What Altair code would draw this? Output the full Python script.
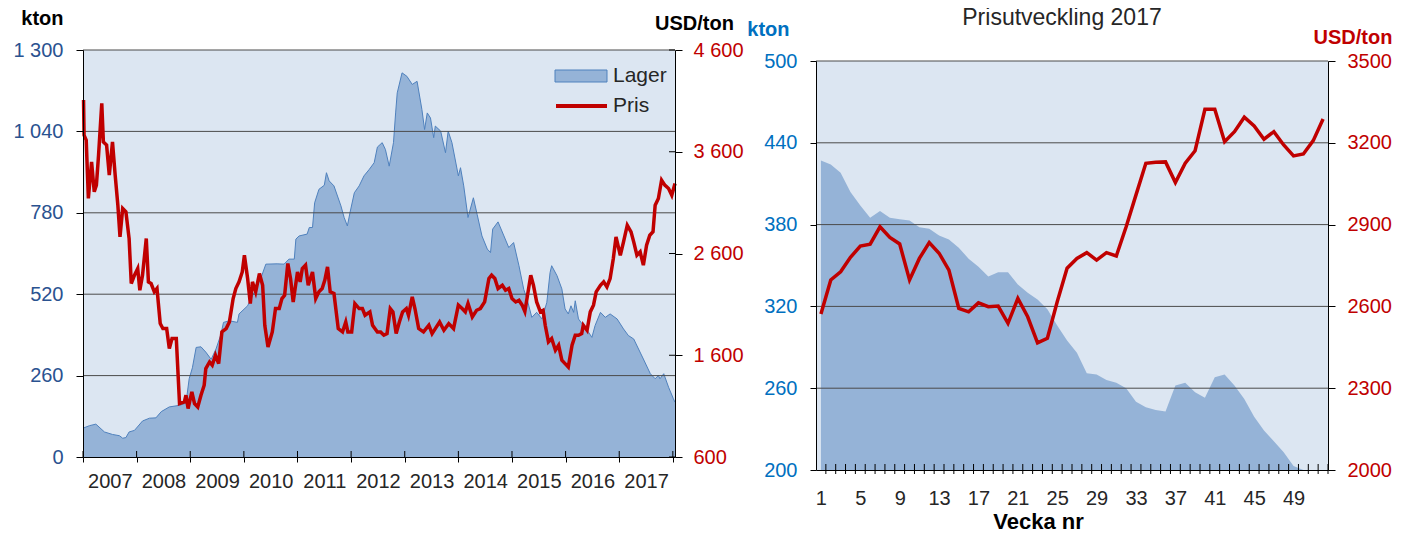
import altair as alt
import pandas as pd

# ---------------- data ----------------
lager_t = [2007.00, 2007.12, 2007.24, 2007.40, 2007.55, 2007.68, 2007.74, 2007.80, 2007.86, 2007.96,
           2008.11, 2008.24, 2008.36, 2008.46, 2008.61, 2008.80, 2008.92, 2008.98, 2009.04, 2009.11,
           2009.20, 2009.29, 2009.39, 2009.48, 2009.57, 2009.62, 2009.73, 2009.88, 2009.91, 2010.07,
           2010.31, 2010.41, 2010.62, 2010.75, 2010.84, 2010.94, 2010.97, 2011.03, 2011.18, 2011.22,
           2011.28, 2011.32, 2011.40, 2011.50, 2011.54, 2011.59, 2011.68, 2011.81, 2011.87, 2011.93,
           2011.98, 2012.06, 2012.15, 2012.24, 2012.34, 2012.43, 2012.49, 2012.58, 2012.64, 2012.71,
           2012.79, 2012.83, 2012.86, 2012.95, 2013.04, 2013.14, 2013.23, 2013.32, 2013.37, 2013.42,
           2013.48, 2013.54, 2013.57, 2013.67, 2013.76, 2013.81, 2013.88, 2014.00, 2014.04, 2014.10,
           2014.18, 2014.28, 2014.35, 2014.44, 2014.54, 2014.60, 2014.64, 2014.74, 2014.85, 2014.94,
           2015.03, 2015.13, 2015.22, 2015.28, 2015.37, 2015.46, 2015.56, 2015.65, 2015.71, 2015.74,
           2015.84, 2015.93, 2015.99, 2016.05, 2016.10, 2016.15, 2016.18, 2016.24, 2016.33, 2016.43,
           2016.49, 2016.55, 2016.65, 2016.74, 2016.83, 2016.96, 2017.08, 2017.17, 2017.27, 2017.36,
           2017.45, 2017.58, 2017.67, 2017.73, 2017.76, 2017.83, 2017.92, 2018.01, 2018.04]
lager_kton = [92, 100, 105, 80, 72, 68, 60, 62, 80, 85,
              115, 124, 125, 145, 160, 165, 172, 250, 285, 350,
              352, 335, 312, 345, 390, 430, 435, 430, 457, 483,
              568, 616, 617, 616, 632, 632, 696, 706, 712, 733,
              733, 812, 855, 868, 908, 882, 866, 802, 765, 738,
              781, 844, 866, 898, 919, 940, 990, 1004, 982, 929,
              1004, 1099, 1163, 1227, 1216, 1190, 1200, 1110, 1046, 1099,
              1083, 1020, 1057, 1041, 972, 1041, 1004, 898, 924, 866,
              765, 828, 775, 706, 664, 653, 728, 751, 706, 669,
              685, 611, 535, 505, 446, 462, 441, 494, 589, 611,
              579, 537, 473, 457, 483, 462, 499, 441, 420, 398,
              382, 420, 462, 446, 457, 441, 409, 388, 377, 345,
              313, 266, 250, 260, 250, 266, 223, 186, 175]

pris_t = [2007.01, 2007.02, 2007.06, 2007.10, 2007.16, 2007.21, 2007.25, 2007.29, 2007.35, 2007.38,
          2007.44, 2007.49, 2007.55, 2007.60, 2007.65, 2007.69, 2007.74, 2007.80, 2007.86, 2007.90,
          2007.96, 2008.02, 2008.06, 2008.11, 2008.18, 2008.22, 2008.27, 2008.33, 2008.38, 2008.44,
          2008.49, 2008.56, 2008.61, 2008.66, 2008.74, 2008.80, 2008.89, 2008.92, 2008.96, 2009.03,
          2009.08, 2009.14, 2009.20, 2009.26, 2009.29, 2009.36, 2009.41, 2009.47, 2009.53, 2009.59,
          2009.67, 2009.73, 2009.80, 2009.85, 2009.91, 2009.97, 2010.01, 2010.07, 2010.12, 2010.16,
          2010.22, 2010.29, 2010.35, 2010.39, 2010.45, 2010.53, 2010.59, 2010.66, 2010.71, 2010.76,
          2010.82, 2010.87, 2010.92, 2011.00, 2011.05, 2011.09, 2011.15, 2011.20, 2011.28, 2011.34,
          2011.40, 2011.46, 2011.51, 2011.56, 2011.61, 2011.68, 2011.76, 2011.84, 2011.90, 2011.94,
          2012.01, 2012.07, 2012.15, 2012.21, 2012.26, 2012.35, 2012.40, 2012.49, 2012.55, 2012.61,
          2012.67, 2012.73, 2012.78, 2012.84, 2012.90, 2012.96, 2013.03, 2013.07, 2013.14, 2013.19,
          2013.26, 2013.35, 2013.45, 2013.51, 2013.57, 2013.65, 2013.73, 2013.82, 2013.91, 2014.00,
          2014.07, 2014.13, 2014.18, 2014.26, 2014.34, 2014.41, 2014.49, 2014.57, 2014.62, 2014.68,
          2014.74, 2014.82, 2014.88, 2014.94, 2015.00, 2015.07, 2015.13, 2015.19, 2015.24, 2015.28,
          2015.35, 2015.40, 2015.46, 2015.53, 2015.58, 2015.62, 2015.68, 2015.74, 2015.81, 2015.87,
          2015.93, 2015.99, 2016.05, 2016.12, 2016.18, 2016.24, 2016.30, 2016.33, 2016.40, 2016.46,
          2016.52, 2016.57, 2016.65, 2016.71, 2016.77, 2016.83, 2016.89, 2016.94, 2017.02, 2017.08,
          2017.15, 2017.22, 2017.27, 2017.33, 2017.39, 2017.45, 2017.51, 2017.57, 2017.63, 2017.67,
          2017.73, 2017.79, 2017.85, 2017.92, 2017.98, 2018.04]
pris_usd = [4108, 3763, 3714, 3141, 3501, 3206, 3272, 3567, 4075, 3697,
            3665, 3370, 3697, 3370, 3075, 2763, 3042, 3009, 2747, 2305,
            2387, 2452, 2239, 2387, 2747, 2321, 2305, 2223, 2256, 1912,
            1862, 1862, 1666, 1764, 1764, 1125, 1141, 1207, 1076, 1239,
            1125, 1092, 1207, 1305, 1469, 1534, 1502, 1600, 1518, 1829,
            1862, 1927, 2157, 2256, 2321, 2419, 2583, 2354, 2108, 2321,
            2223, 2403, 2288, 1895, 1682, 1829, 2059, 2059, 2157, 2190,
            2502, 2354, 2124, 2419, 2321, 2452, 2485, 2288, 2419, 2157,
            2223, 2256, 2338, 2468, 2223, 2207, 1862, 1829, 1927, 1829,
            1829, 2108, 2059, 2059, 1993, 2026, 1895, 1829, 1829, 1797,
            1813, 2059, 2026, 1813, 1927, 2026, 2059, 1993, 2173, 2059,
            1862, 1829, 1895, 1813, 1862, 1927, 1846, 1911, 1862, 2092,
            2059, 2026, 2108, 1977, 2042, 2059, 2124, 2354, 2387, 2354,
            2256, 2288, 2239, 2256, 2157, 2124, 2141, 2092, 2030, 2157,
            2387, 2288, 2124, 2026, 2042, 1895, 1731, 1764, 1649, 1698,
            1551, 1518, 1485, 1698, 1797, 1797, 1813, 1895, 1846, 2026,
            2092, 2223, 2288, 2321, 2272, 2354, 2551, 2763, 2583, 2714,
            2878, 2813, 2714, 2583, 2616, 2485, 2681, 2780, 2813, 3075,
            3141, 3321, 3272, 3239, 3173, 3288]

weeks = list(range(1, 53))
lager_w = [427, 424, 418, 404, 394, 385, 390, 385, 384, 383,
           378, 377, 372, 369, 363, 355, 349, 342, 345, 345,
           336, 330, 325, 318, 306, 295, 286, 271, 270, 266,
           264, 260, 250, 246, 244, 243, 262, 264, 257, 253,
           268, 270, 262, 252, 239, 229, 221, 213, 203, 200,
           200, 200]
pris_w = [2572, 2697, 2727, 2780, 2821, 2828, 2892, 2853, 2829, 2697,
          2776, 2834, 2795, 2733, 2593, 2580, 2613, 2599, 2601, 2538,
          2629, 2562, 2466, 2483, 2617, 2740, 2776, 2797, 2770, 2797,
          2785, 2892, 3009, 3125, 3129, 3130, 3054, 3125, 3171, 3323,
          3323, 3204, 3241, 3294, 3262, 3213, 3241, 3192, 3152, 3159,
          3208, 3287]

years = list(range(2007, 2019))
kton_ticks_left = [0, 260, 520, 780, 1040, 1300]
usd_ticks_left = [600, 1600, 2600, 3600, 4600]
kton_ticks_right = [200, 260, 320, 380, 440, 500]
usd_ticks_right = [2000, 2300, 2600, 2900, 3200, 3500]
week_labels = [1, 5, 9, 13, 17, 21, 25, 29, 33, 37, 41, 45, 49]
legend_names = ["Lager", "Pris"]
right_title = "Prisutveckling 2017"

# ---------------- style ----------------
FONT = "Liberation Sans"
BG = "#dce6f2"
AREA = "#95b3d7"
AREA_EDGE = "#4f81bd"
RED = "#c00000"
BLUE_DARK = "#2a5290"
BLUE = "#0070c0"
TXT = "#262626"
GRID = "#4a4a4a"

W1, H1 = 592, 407
W2, H2 = 512, 420       # right view starts 11px above its plot frame
TOP2 = 11               # plot frame top inside the right view

SPACED = "replace(format(datum.value, ',d'), ',', ' ')"

df_lager = pd.DataFrame({"t": lager_t, "kton": lager_kton})
df_pris = pd.DataFrame({"t": pris_t, "usd": pris_usd})
df_years = pd.DataFrame({"t": years})
df_kgrid_l = pd.DataFrame({"kton": kton_ticks_left[1:]})
df_usd_l = pd.DataFrame({"usd": usd_ticks_left})
df_w = pd.DataFrame({"week": weeks, "kton": lager_w, "usd": pris_w})
df_kgrid_r = pd.DataFrame({"kton": kton_ticks_right[1:]})
one = pd.DataFrame({"a": [0]})

# ---------------- left panel ----------------
x_left = alt.X(
    "t:Q",
    title=None,
    scale=alt.Scale(domain=[2007, 2018.04], nice=False, zero=False),
    axis=alt.Axis(values=years, format="d",
                  labelExpr="datum.value < 2018 ? datum.label : ''",
                  labelOffset=26.8, labelFlush=False, labelOverlap=False,
                  tickSize=5, tickColor="black",
                  labelPadding=9, labelFontSize=20, labelColor=TXT,
                  domainColor="black", grid=False, zindex=2),
)
y_kton_left = alt.Y(
    "kton:Q",
    scale=alt.Scale(domain=[0, 1300], nice=False, zero=False),
    axis=alt.Axis(values=kton_ticks_left, labelExpr=SPACED,
                  grid=False, tickSize=7, tickColor="black", labelPadding=13,
                  labelFontSize=20, labelColor=BLUE_DARK, domainColor="black", zindex=2,
                  title="kton", titleAngle=0, titleAlign="right", titleBaseline="alphabetic",
                  titleX=-20, titleY=-26, titleFontSize=20, titleFontWeight="bold",
                  titleColor="black"),
)
y_usd_left = alt.Y(
    "usd:Q",
    scale=alt.Scale(domain=[600, 4600], nice=False, zero=False),
    axis=alt.Axis(orient="right", values=usd_ticks_left, labelExpr=SPACED,
                  grid=False, tickSize=7, tickColor="black", labelPadding=11,
                  labelFontSize=20, labelColor=RED, domainColor="black", zindex=2,
                  title="USD/ton", titleAngle=0, titleAlign="center", titleBaseline="alphabetic",
                  titleX=19, titleY=-21, titleFontSize=20, titleFontWeight="bold",
                  titleColor="black"),
)

area_left = alt.Chart(df_lager).mark_area(
    color=AREA, opacity=1, line={"color": AREA_EDGE, "strokeWidth": 1}
).encode(x=x_left, y=y_kton_left)
grid_left = alt.Chart(df_kgrid_l).mark_rule(color=GRID, strokeWidth=1).encode(y="kton:Q")
yearticks = alt.Chart(df_years).mark_rule(color="black", strokeWidth=1).encode(
    x="t:Q", y=alt.value(H1 - 6), y2=alt.value(H1))
leg_rect = alt.Chart(one).mark_rect(fill=AREA, stroke=AREA_EDGE, strokeWidth=1).encode(
    x=alt.value(472), x2=alt.value(524), y=alt.value(20), y2=alt.value(32))
leg_line = alt.Chart(one).mark_rule(color=RED, strokeWidth=4).encode(
    x=alt.value(473), x2=alt.value(524), y=alt.value(56))
leg_t1 = alt.Chart(one).mark_text(text=legend_names[0], align="left", baseline="middle",
                                  fontSize=21, color=TXT, font=FONT).encode(
    x=alt.value(530), y=alt.value(26))
leg_t2 = alt.Chart(one).mark_text(text=legend_names[1], align="left", baseline="middle",
                                  fontSize=21, color=TXT, font=FONT).encode(
    x=alt.value(530), y=alt.value(56))

line_left = alt.Chart(df_pris).mark_line(color=RED, strokeWidth=3.5).encode(x="t:Q", y=y_usd_left)
usdticks = alt.Chart(df_usd_l).mark_rule(color="black", strokeWidth=1).encode(
    y="usd:Q", x=alt.value(W1 - 6), x2=alt.value(W1))

left = alt.layer(
    alt.layer(area_left, grid_left, yearticks, leg_rect, leg_line, leg_t1, leg_t2),
    alt.layer(line_left, usdticks),
).resolve_scale(y="independent").properties(
    width=W1, height=H1, view=alt.ViewBackground(fill=BG, strokeWidth=0))

# ---------------- right panel ----------------
x_right = alt.X(
    "week:Q",
    scale=alt.Scale(domain=[0.5, 52.5], nice=False, zero=False),
    axis=alt.Axis(values=week_labels, format="d", tickSize=4, tickOpacity=0,
                  labelFlush=False, labelOverlap=False,
                  labelPadding=14, labelFontSize=20, labelColor=TXT,
                  domainColor="black", grid=False, zindex=2,
                  title="Vecka nr", titleX=222, titleY=58.6, titleAlign="center",
                  titleBaseline="alphabetic", titleFontSize=22, titleFontWeight="bold",
                  titleColor="black"),
)
y_kton_right = alt.Y(
    "kton:Q",
    scale=alt.Scale(domain=[200, 500], range=[H2, TOP2], nice=False, zero=False),
    axis=alt.Axis(values=kton_ticks_right, format="d", grid=False, tickSize=6,
                  tickColor="black", labelPadding=13, labelFontSize=20, labelColor=BLUE,
                  domainColor="black", zindex=2,
                  title="kton", titleAngle=0, titleAlign="right", titleBaseline="alphabetic",
                  titleX=-27, titleY=-15, titleFontSize=20, titleFontWeight="bold",
                  titleColor=BLUE),
)
y_usd_right = alt.Y(
    "usd:Q",
    scale=alt.Scale(domain=[2000, 3500], range=[H2, TOP2], nice=False, zero=False),
    axis=alt.Axis(orient="right", values=usd_ticks_right, format="d", grid=False,
                  tickSize=7, tickColor="black", labelPadding=12, labelFontSize=20,
                  labelColor=RED, domainColor="black", zindex=2,
                  title="USD/ton", titleAngle=0, titleAlign="left", titleBaseline="alphabetic",
                  titleX=-15, titleY=-7, titleFontSize=20, titleFontWeight="bold",
                  titleColor=RED),
)

bg_right = alt.Chart(one).mark_rect(color=BG).encode(
    x=alt.value(0), x2=alt.value(W2), y=alt.value(TOP2), y2=alt.value(H2))
area_right = alt.Chart(df_w).mark_area(color=AREA, opacity=1, clip=True).encode(
    x=x_right, y=y_kton_right)
grid_right = alt.Chart(df_kgrid_r).mark_rule(color=GRID, strokeWidth=1).encode(y="kton:Q")
weekticks = alt.Chart(df_w).transform_calculate(tx="datum.week + 0.5").mark_rule(
    color="black", strokeWidth=1).encode(x="tx:Q", y=alt.value(H2 - 6), y2=alt.value(H2 + 4))
title_right = alt.Chart(one).mark_text(text=right_title, align="center", baseline="alphabetic",
                                       fontSize=23, color=TXT, font=FONT).encode(
    x=alt.value(W2 / 2 - 10), y=alt.value(-25))
line_right = alt.Chart(df_w).mark_line(color=RED, strokeWidth=3.5).encode(
    x="week:Q", y=y_usd_right)

right = alt.layer(
    alt.layer(bg_right, area_right, grid_right, weekticks, title_right),
    line_right,
).resolve_scale(y="independent").properties(
    width=W2, height=H2, view=alt.ViewBackground(strokeWidth=0))

chart = alt.hconcat(left, right, spacing=2).properties(
    padding={"left": 4, "top": -1, "right": 0, "bottom": 0}
).configure(font=FONT).configure_axis(labelFont=FONT, titleFont=FONT)

chart.save("out.html", embed_options={"renderer": "svg", "actions": False})
